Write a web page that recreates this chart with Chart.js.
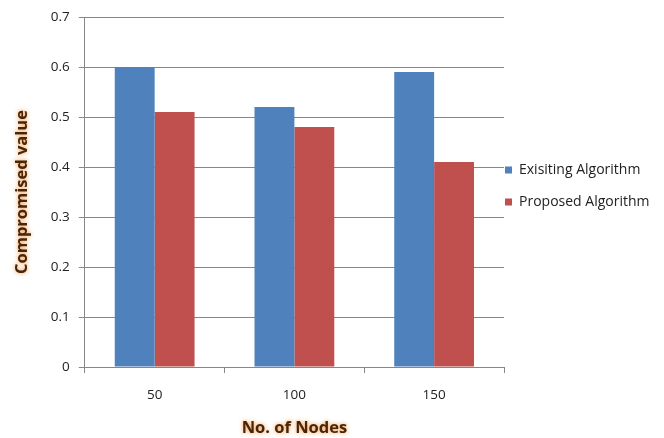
<!DOCTYPE html>
<html><head><meta charset="utf-8">
<script src="https://cdn.jsdelivr.net/npm/chart.js@4/dist/chart.umd.min.js"></script>
<style>html,body{margin:0;padding:0;background:#fff}#w{width:664px;height:438px}</style>
</head><body><div id="w"><canvas id="c" width="664" height="438"></canvas></div>
<script>
const categories = ['50', '100', '150'];
const existing = [0.60, 0.52, 0.59];
const proposed = [0.51, 0.48, 0.41];
const seriesNames = ['Exisiting Algorithm', 'Proposed Algorithm'];
const xTitle = 'No. of Nodes';
const yTitle = 'Compromised value';

const titleColor = '#4a2608';
const glowPlugin = {
  id: 'glow',
  afterLayout(chart) {
    const lg = chart.legend;
    if (lg) { lg.top -= 40; lg.bottom -= 40; lg.left -= 17; lg.right -= 17; }
    for (const id of ['x', 'y']) {
      const s = chart.scales[id];
      if (s && !s._glowPatched) {
        const orig = s.drawTitle;
        s.drawTitle = function () {
          const ctx = this.ctx;
          ctx.save();
          ctx.shadowColor = 'rgba(240,140,50,0.95)';
          ctx.shadowBlur = 4;
          orig.apply(this, arguments);
          ctx.restore();
        };
        s._glowPatched = true;
      }
    }
  }
};

new Chart(document.getElementById('c'), {
  type: 'bar',
  data: {
    labels: categories,
    datasets: [
      {label: seriesNames[0], data: existing, backgroundColor: '#4f81bd', borderWidth: 0,
       categoryPercentage: 0.571, barPercentage: 1},
      {label: seriesNames[1], data: proposed, backgroundColor: '#c0504d', borderWidth: 0,
       categoryPercentage: 0.571, barPercentage: 1}
    ]
  },
  options: {
    responsive: false,
    animation: false,
    devicePixelRatio: 1,
    layout: {padding: {left: 12, right: -4, top: 14, bottom: 0}},
    plugins: {
      tooltip: {enabled: false},
      legend: {
        position: 'right',
        labels: {boxWidth: 7, boxHeight: 7, padding: 18,
          font: {family: 'Open Sans', size: 14}, color: '#222'}
      }
    },
    scales: {
      x: {
        grid: {display: true, drawOnChartArea: false, offset: true, tickLength: 6, color: '#878787'},
        border: {color: '#878787'},
        ticks: {padding: 14, font: {family: 'Open Sans', size: 13.5}, color: '#222'},
        title: {display: true, text: xTitle, color: titleColor,
          font: {family: 'Open Sans', size: 16.5, weight: 'bold'}, padding: {top: 1, bottom: 0}}
      },
      y: {
        min: 0, max: 0.7,
        grid: {color: '#878787', tickLength: 6},
        border: {color: '#878787'},
        ticks: {stepSize: 0.1, padding: 9, font: {family: 'Open Sans', size: 13.5}, color: '#222',
          callback: v => (Math.round(v*10)/10).toString()},
        title: {display: true, text: yTitle, color: titleColor,
          font: {family: 'Open Sans', size: 16.5, weight: 'bold'}, padding: {top: 0, bottom: 10}}
      }
    }
  },
  plugins: [glowPlugin]
});
</script></body></html>
